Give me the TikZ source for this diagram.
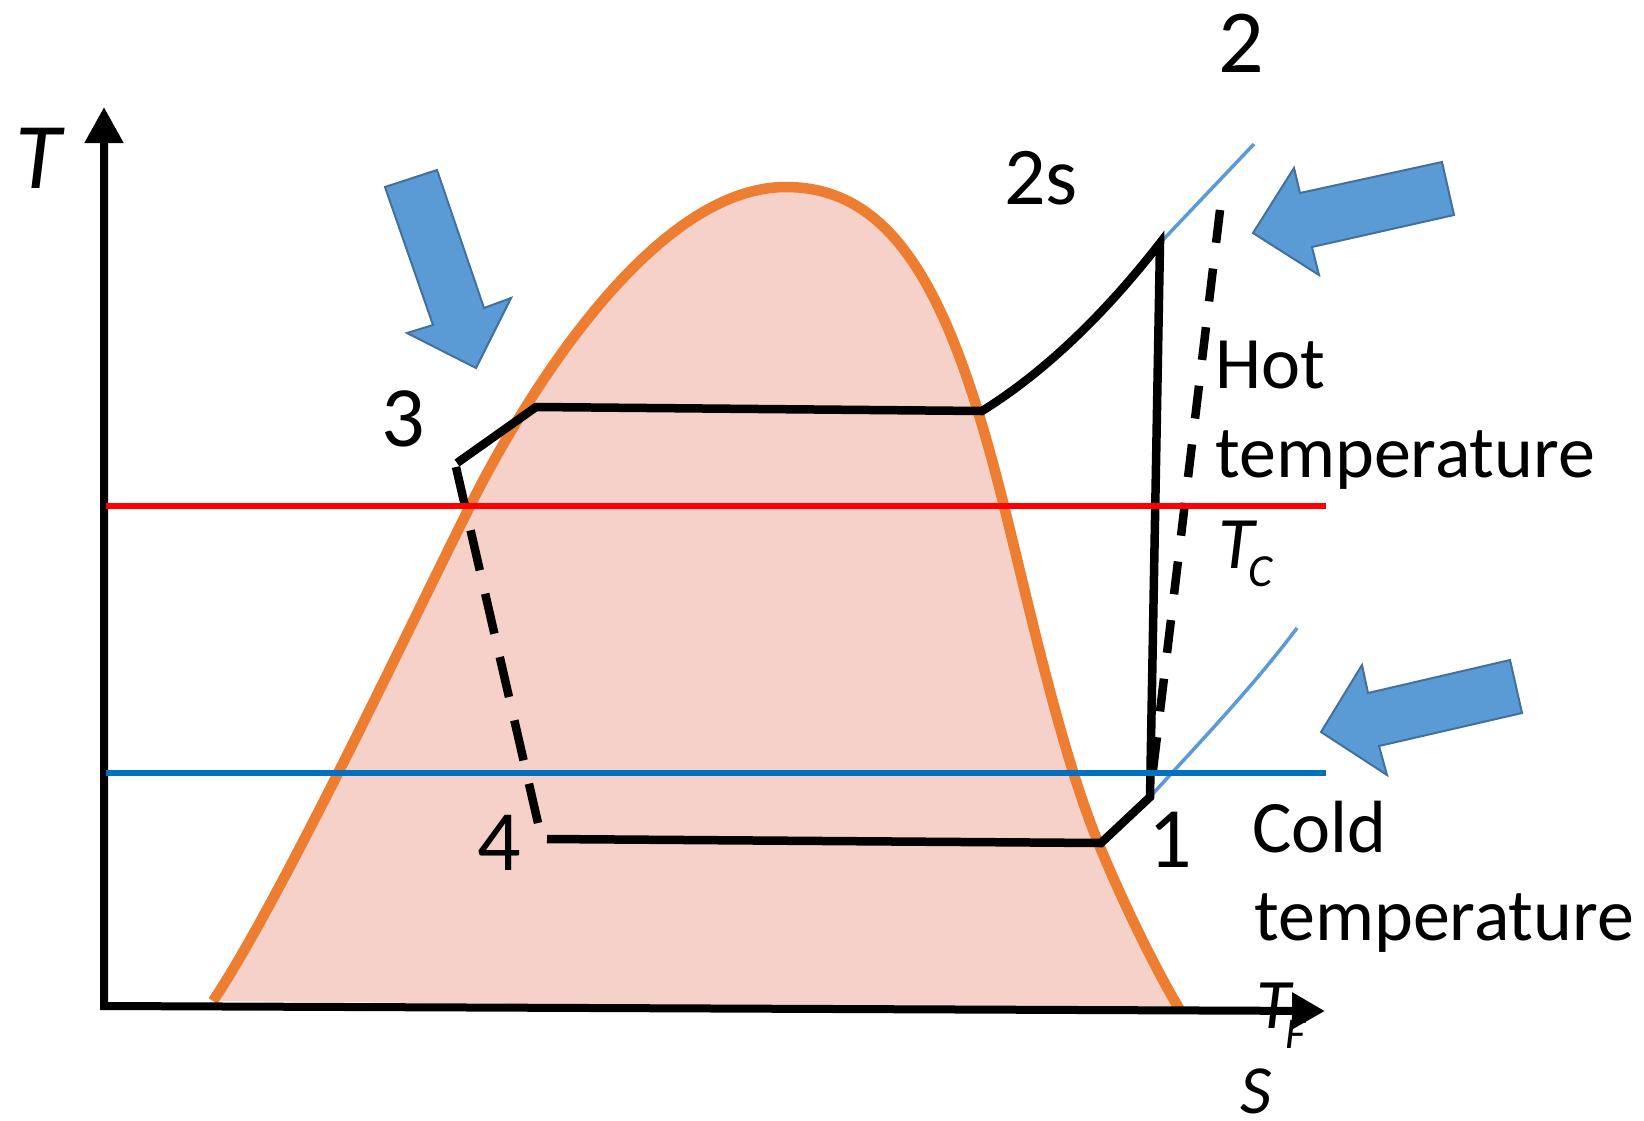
\documentclass[tikz,border=0pt]{standalone}
\usepackage{fontspec}
\setmainfont{Carlito}
\usetikzlibrary{arrows.meta}
\definecolor{domefill}{RGB}{246,209,201}
\definecolor{domeline}{RGB}{237,125,49}
\definecolor{hotline}{RGB}{255,0,0}
\definecolor{coldline}{RGB}{0,112,192}
\definecolor{isoc}{RGB}{91,155,213}
\definecolor{barrowfill}{RGB}{91,155,213}
\definecolor{barrowedge}{RGB}{65,113,156}
\tikzset{
  axisline/.style={line width=8pt, line join=miter,
    {Triangle[length=36pt,width=37pt]}-{Triangle[length=33pt,width=35pt]}},
  cycleline/.style={line width=8.5pt, line join=miter},
  cycledashA/.style={line width=8.5pt, dash pattern=on 41pt off 24pt},
  cycledashB/.style={line width=8.5pt, dash pattern=on 33pt off 26pt},
  isoline/.style={isoc, line width=3.5pt},
  templine/.style={line width=5.5pt},
  domestroke/.style={domeline, line width=10.5pt},
  barrow/.style={fill=barrowfill, draw=barrowedge, line width=2pt, line join=miter},
  lbl/.style={inner sep=0pt, anchor=base},
  lblw/.style={inner sep=0pt, anchor=base west},
  numfont/.style={font=\fontsize{86}{86}\selectfont},
  txtfont/.style={font=\fontsize{74}{88}\selectfont},
}
\def\domepath{(213,1001) .. controls (280,901) and (410,626) .. (470,506) .. controls (520,406) and (650,187) .. (786,187) .. controls (900,187) and (954,306) .. (1004,506) .. controls (1029,606) and (1062,757) .. (1100,847) .. controls (1125,907) and (1156,970) .. (1180,1010)}
\begin{document}
\begin{tikzpicture}[x=1pt,y=-1pt]
\useasboundingbox (0,0) rectangle (1644,1120);
% coordinates
\coordinate (ytip) at (104,107);
\coordinate (origin) at (104,1006);
\coordinate (xtip) at (1325,1011);
\coordinate (c1) at (1150,797);
\coordinate (c1a) at (1101,843);
\coordinate (c4) at (547,839);
\coordinate (c4d) at (538,823);
\coordinate (c3) at (457,463);
\coordinate (c3d) at (456,467);
\coordinate (c3a) at (536,407);
\coordinate (c2a) at (982,411);
\coordinate (c2) at (1160,243);
\coordinate (c2s) at (1220,210);
\coordinate (c1s) at (1153,770);
\coordinate (i2end) at (1254,144);
\coordinate (i1end) at (1297,628);
\coordinate (hl) at (106,506);
\coordinate (hr) at (1326,506);
\coordinate (cl) at (106,773);
\coordinate (cr) at (1326,773);
% dome
\fill[domefill] \domepath -- cycle;
\draw[domestroke] \domepath;
% isobars
\draw[isoline] (c2a) .. controls (1040,375) and (1100,320) .. (c2) -- (i2end);
\draw[isoline] (c1) .. controls (1197,745) and (1252,688) .. (i1end);
% cycle
\draw[cycleline] (c4) -- (c1a) -- (c1) -- (c2) .. controls (1100,320) and (1040,375) .. (c2a) -- (c3a) -- (c3);
\draw[cycledashA] (c3d) -- (c4d);
\draw[cycledashB] (c2s) -- (c1s);
% axes
\draw[axisline] (ytip) -- (origin) -- (xtip);
% temperature lines
\draw[templine, hotline] (hl) -- (hr);
\draw[templine, coldline] (cl) -- (cr);
% block arrows
\draw[barrow] (385,187) -- (437,170) -- (484,308) -- (511,298) -- (476,368) -- (407,333) -- (433,325) -- cycle;
\draw[barrow] (1442,162) -- (1454,215) -- (1312,247) -- (1319,275) -- (1253,233) -- (1294,168) -- (1300,193) -- cycle;
\draw[barrow] (1510,660) -- (1522,713) -- (1379,746) -- (1387,775) -- (1321,732) -- (1362,665) -- (1368,693) -- cycle;
% labels
\node[lbl, font=\fontsize{94}{94}\selectfont\itshape] (Tlab) at (38,188) {T};
\node[lbl, font=\fontsize{69}{69}\selectfont\itshape] (Slab) at (1256,1113) {S};
\node[lblw, font=\fontsize{71}{71}\selectfont\itshape] (TFlab) at (1256,1028) {T\kern-5pt\raisebox{-20pt}{\fontsize{44}{44}\selectfont F}};
\node[lblw, font=\fontsize{74}{74}\selectfont\itshape] (TClab) at (1218,568) {T\kern-6pt\raisebox{-18pt}{\fontsize{46}{46}\selectfont C}};
\node[lbl, font=\fontsize{90}{90}\selectfont] (n2) at (1241,72) {2};
\node[lblw, font=\fontsize{82}{82}\selectfont] (n2s) at (1004,204) {2s};
\node[lbl, numfont] (n3) at (403,446) {3};
\node[lbl, numfont] (n4) at (499,870) {4};
\node[lbl, numfont] (n1) at (1170,867) {1};
\node[lblw, txtfont] (hot1) at (1215,388) {Hot};
\node[lblw, txtfont] (hot2) at (1215,477) {temperature};
\node[lblw, txtfont] (cold1) at (1252,852) {Cold};
\node[lblw, txtfont] (cold2) at (1254,940) {temperature};
\end{tikzpicture}
\end{document}
